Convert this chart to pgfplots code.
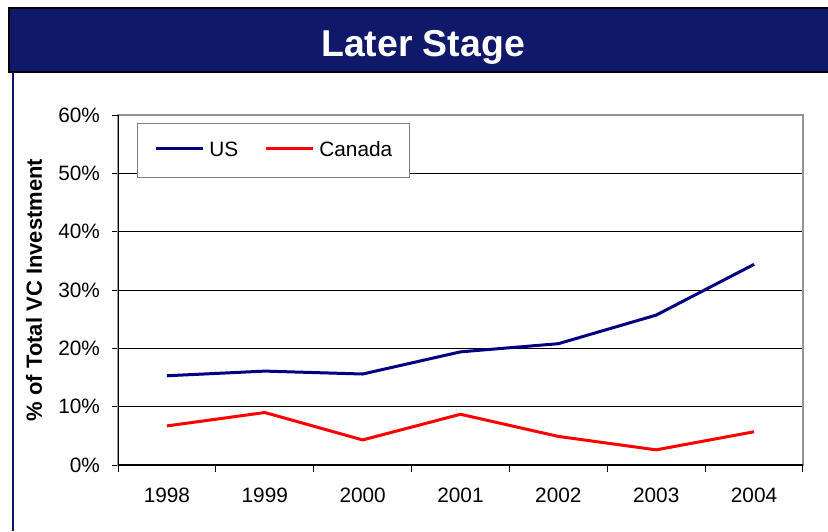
\documentclass[border=0pt]{standalone}
\usepackage{pgfplots}
\pgfplotsset{compat=1.18}
\usepackage{fontspec}
\setmainfont{Liberation Sans}
\definecolor{barnavy}{RGB}{16,24,106}
\definecolor{usblue}{RGB}{0,0,128}
\definecolor{frame}{RGB}{150,150,150}

\pgfplotstableread{
idx year us canada
0 1998 15.3 6.7
1 1999 16.1 9.0
2 2000 15.6 4.3
3 2001 19.4 8.7
4 2002 20.8 4.9
5 2003 25.7 2.6
6 2004 34.4 5.7
}\latertable

\begin{document}
\begin{tikzpicture}
% slide frame, 1px = 0.5pt
\begin{scope}[x=0.5pt,y=-0.5pt]
\path[use as bounding box] (0,0) rectangle (828,531);
\fill[barnavy] (8,7) rectangle (828,72);
\draw[black,line width=1pt] (8,7.5) -- (828,7.5);
\draw[black,line width=1pt] (8,71.5) -- (828,71.5);
\draw[black,line width=1pt] (8.5,7) -- (8.5,72);
\node[text=white,anchor=base,font=\bfseries\fontsize{18.7}{22}\selectfont] at (423,56) {Later Stage};
\draw[barnavy,line width=1.2pt] (13,72) -- (13,531);
\end{scope}

\begin{axis}[
  at={(59pt,-232.5pt)}, anchor=south west,
  scale only axis,
  width=342.5pt, height=175pt,
  xmin=-0.5, xmax=6.5, ymin=0, ymax=60,
  xtick={0,...,6},
  xticklabels={1998,1999,2000,2001,2002,2003,2004},
  minor xtick={-0.5,0.5,...,6.5},
  major x tick style={draw=none},
  minor x tick style={black, line width=0.5pt},
  minor tick length=3.5pt,
  ytick={0,10,...,50},
  extra y ticks={60},
  extra y tick style={grid=none},
  yticklabel={\pgfmathprintnumber{\tick}\%},
  major tick length=3pt,
  tick align=outside,
  xtick pos=bottom, ytick pos=left,
  y tick style={black, line width=0.5pt},
  ymajorgrids,
  major grid style={black, line width=0.5pt},
  axis line style={frame, line width=0.7pt},
  /pgf/number format/assume math mode=true,
  tick label style={font=\fontsize{10.4}{12}\selectfont},
  xticklabel style={yshift=-5pt},
  yticklabel style={xshift=-2.5pt},
  ylabel={\% of Total VC Investment},
  every axis y label/.style={at={(axis description cs:-0.1226,0.5)}, rotate=90, anchor=center,
    font=\bfseries\fontsize{11}{13}\selectfont},
  legend columns=2,
  legend style={at={(axis description cs:0.0277,0.977)}, anchor=north west,
    draw=gray, line width=0.5pt, fill=white,
    font=\fontsize{10.4}{12}\selectfont,
    inner xsep=8.5pt, inner ysep=9pt,
    nodes={inner sep=0pt},
    /tikz/every odd column/.append style={column sep=2.5pt},
    /tikz/every even column/.append style={column sep=13pt}},
  legend image code/.code={\draw[#1] (0pt,0.9pt) -- (23.5pt,0.9pt);},
]
\addplot[usblue, line width=1.5pt] table[x=idx, y=us] {\latertable};
\addlegendentry{US}
\addplot[red, line width=1.5pt] table[x=idx, y=canada] {\latertable};
\addlegendentry{Canada}
\draw[black, line width=0.7pt] (rel axis cs:0,1) -- (rel axis cs:0,0) -- (rel axis cs:1,0);
\end{axis}
\end{tikzpicture}
\end{document}
